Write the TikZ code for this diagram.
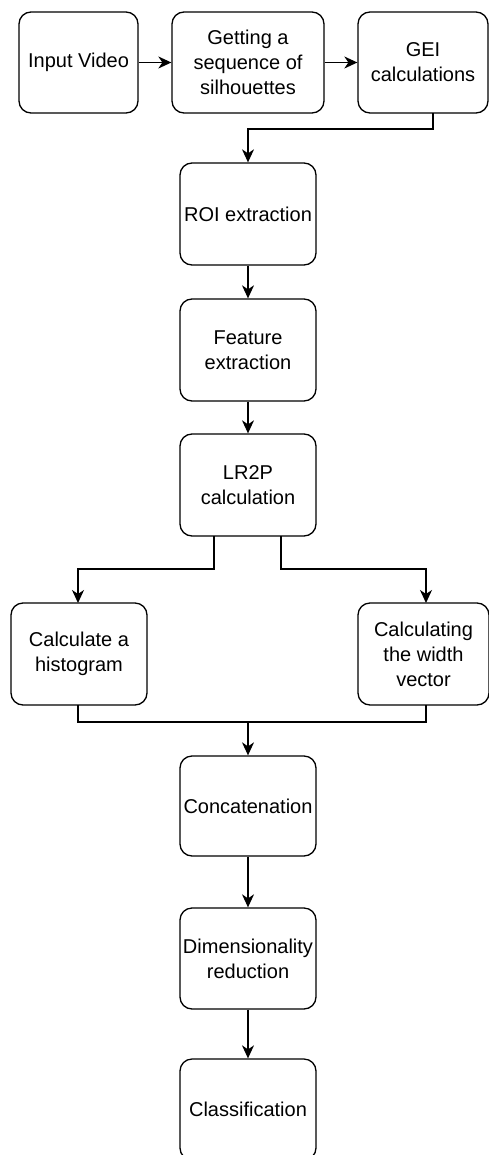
\documentclass[tikz,border=0pt]{standalone}
\usepackage{fontspec}
\setmainfont{Liberation Sans}
\usetikzlibrary{arrows.meta,calc}
\begin{document}
\begin{tikzpicture}[x=1pt,y=-1pt,
  box/.style={draw,line width=1.3pt,rounded corners=12pt,align=center,inner sep=0pt,
    font=\fontsize{20}{25}\selectfont,minimum height=101pt},
  conn/.style={line width=1.3pt,-{Stealth[length=13pt,width=12pt,inset=4pt]}},
  plain/.style={line width=1.3pt}]
\useasboundingbox (0,0) rectangle (489,1155);
\node[box,minimum width=119pt] (in) at (78.5,62.5) {Input Video};
\node[box,minimum width=152pt] (seq) at (248,62.5) {Getting a\\sequence of\\silhouettes};
\node[box,minimum width=130pt] (gei) at (423,62.5) {GEI\\calculations};
\node[box,minimum width=136pt,minimum height=102pt] (roi) at (248,214) {ROI extraction};
\node[box,minimum width=136pt,minimum height=102pt] (feat) at (248,350) {Feature\\extraction};
\node[box,minimum width=136pt,minimum height=102pt] (lr) at (248,485) {LR2P\\calculation};
\node[box,minimum width=136pt,minimum height=102pt] (hist) at (79,654) {Calculate a\\histogram};
\node[box,minimum width=131pt,minimum height=102pt] (wid) at (423.5,654) {Calculating\\the width\\vector};
\node[box,minimum width=136pt,minimum height=100pt] (conc) at (248,806) {Concatenation};
\node[box,minimum width=136pt,minimum height=101pt] (dim) at (248,958.5) {Dimensionality\\reduction};
\node[box,minimum width=136pt,minimum height=101pt] (cls) at (248,1109.5) {Classification};

\coordinate (geiout) at (433,113);
\coordinate (lrl) at (214,536);
\coordinate (lrr) at (281,536);
\coordinate (histout) at (78,705);
\coordinate (widout) at (426,705);
\coordinate (merge) at (248,722);

\draw[conn] (in) -- (seq);
\draw[conn] (seq) -- (gei);
\draw[conn] (geiout) |- (248,129) -- (roi.north);
\draw[conn] (roi) -- (feat);
\draw[conn] (feat) -- (lr);
\draw[conn] (lrl) |- (78,569) -- (78,603);
\draw[conn] (lrr) |- (426,569) -- (426,603);
\draw[plain] (histout) |- (merge);
\draw[plain] (widout) |- (merge);
\draw[conn] (merge) -- (conc.north);
\draw[conn] (conc) -- (dim);
\draw[conn] (dim) -- (cls);
\end{tikzpicture}
\end{document}
